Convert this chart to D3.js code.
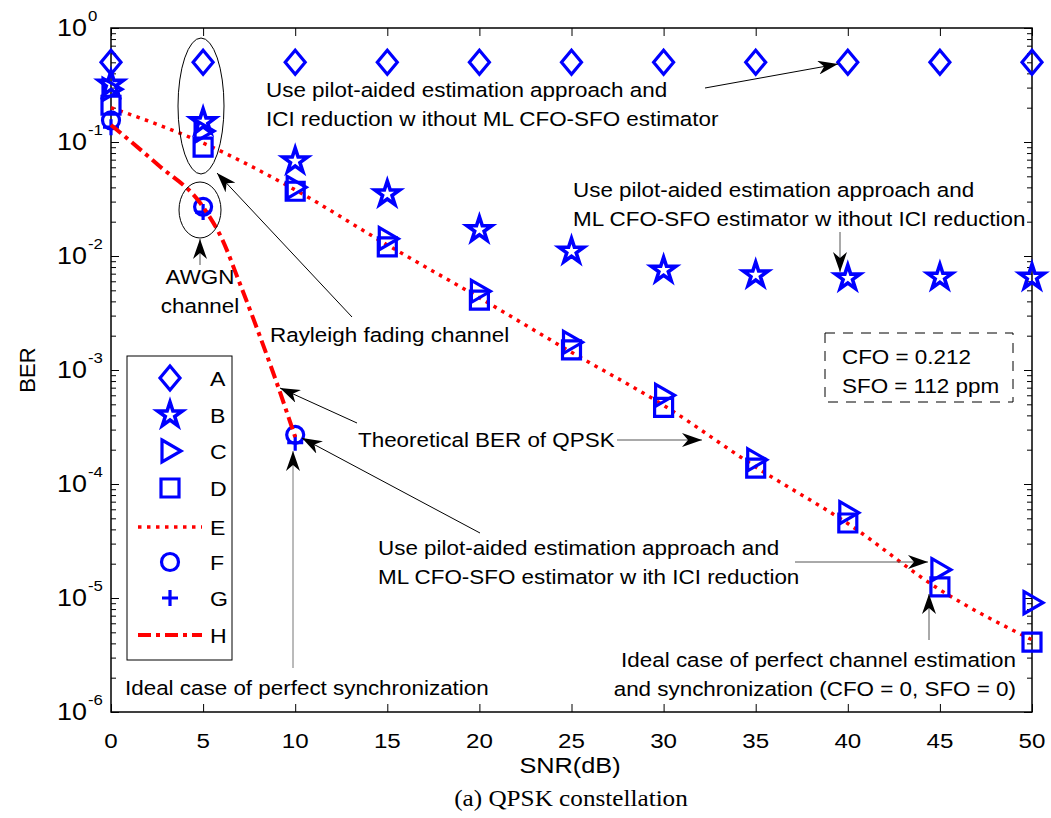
<!DOCTYPE html>
<html lang="en">
<head>
<meta charset="UTF-8">
<title>BER vs SNR - QPSK</title>
<script src="https://d3js.org/d3.v7.min.js"></script>
<style>
    body { margin: 0; background: #fff; }
    svg text { font-family: "Liberation Sans", Arial, sans-serif; fill: #000; }
</style>
</head>
<body>
<div id="chart"></div>
<script>
    // values
    const snr = [0, 5, 10, 15, 20, 25, 30, 35, 40, 45, 50];
    const berA = [0.5, 0.5, 0.5, 0.5, 0.5, 0.5, 0.5, 0.5, 0.5, 0.5, 0.5];
    const berB = [0.32, 0.15, 0.068, 0.035, 0.017, 0.011, 0.0075, 0.0068, 0.0064, 0.0065, 0.0065];
    const berC = [0.29, 0.125, 0.04, 0.0142, 0.0049, 0.00175, 0.0006, 0.000163, 0.000056, 0.0000177, 0.0000091];
    const berD = [0.21, 0.09, 0.037, 0.012, 0.0041, 0.0015, 0.00047, 0.000138, 0.0000455, 0.0000125, 0.0000041];
    const berE = [0.2, 0.098, 0.038, 0.0125, 0.0043, 0.00143, 0.00049, 0.000141, 0.000045, 0.0000118, 0.0000043];
    const snrF = [0, 5, 10];
    const berF = [0.155, 0.027, 0.00027];
    const berG = [0.135, 0.0243, 0.00023];
    const snrH = [0, 2.5, 5, 6, 7, 8, 9, 10];
    const berH = [0.141, 0.064, 0.0269, 0.0144, 0.0057, 0.00215, 0.00077, 0.000258];
    const legendLabels = ["A", "B", "C", "D", "E", "F", "G", "H"];
    const xTicks = [0, 5, 10, 15, 20, 25, 30, 35, 40, 45, 50];
    const yTicks = [0, -1, -2, -3, -4, -5, -6];

    const W = 1051, H = 818;
    const blue = "#0000ff", red = "#ff0000";
    const SX = 1.15; // the reference text is drawn a little wide

    const svg = d3.select("#chart").append("svg")
        .attr("width", W).attr("height", H);

    const x = d3.scaleLinear().domain([0, 50]).range([111, 1032]);
    const y = d3.scaleLog().domain([1e-6, 1]).range([712, 28]);

    // minor ticks for the log axis
    const minor = [];
    for (let e = -6; e < 0; e++) for (let m = 2; m <= 9; m++) minor.push(m * Math.pow(10, e));
    const major = yTicks.map(e => Math.pow(10, e));

    function tickStyle(g) {
        g.select(".domain").remove();
        g.selectAll("line").attr("stroke", "#000").attr("stroke-width", 1);
    }

    svg.append("g").attr("transform", "translate(111,0)")
        .call(d3.axisLeft(y).tickValues(major).tickSize(-8).tickFormat("")).call(tickStyle);
    svg.append("g").attr("transform", "translate(111,0)")
        .call(d3.axisLeft(y).tickValues(minor).tickSize(-5).tickFormat("")).call(tickStyle);
    svg.append("g").attr("transform", "translate(1032,0)")
        .call(d3.axisRight(y).tickValues(major).tickSize(-8).tickFormat("")).call(tickStyle);
    svg.append("g").attr("transform", "translate(1032,0)")
        .call(d3.axisRight(y).tickValues(minor).tickSize(-5).tickFormat("")).call(tickStyle);
    svg.append("g").attr("transform", "translate(0,712)")
        .call(d3.axisBottom(x).tickValues(xTicks).tickSize(-8).tickFormat("")).call(tickStyle);
    svg.append("g").attr("transform", "translate(0,28)")
        .call(d3.axisTop(x).tickValues(xTicks).tickSize(-8).tickFormat("")).call(tickStyle);

    svg.append("rect").attr("x", 111).attr("y", 28).attr("width", 921).attr("height", 684)
        .attr("fill", "none").attr("stroke", "#000").attr("stroke-width", 1.5);

    // tick labels
    svg.append("g").selectAll("text").data(xTicks).enter().append("text")
        .attr("transform", d => `translate(${x(d)},748) scale(1.15,1)`)
        .attr("text-anchor", "middle").attr("font-size", 21)
        .text(d => d);

    svg.append("g").selectAll("text").data(yTicks).enter().append("text")
        .attr("transform", d => `translate(87,${y(Math.pow(10, d)) + 8}) scale(1.12,1)`)
        .attr("text-anchor", "end").attr("font-size", 24).text("10");
    svg.append("g").selectAll("text").data(yTicks).enter().append("text")
        .attr("transform", d => `translate(88,${y(Math.pow(10, d)) - 7}) scale(1.12,1)`)
        .attr("font-size", 15).text(d => d === 0 ? "0" : "-" + (-d));

    svg.append("text").attr("transform", `translate(570,773) scale(1.15,1)`).attr("text-anchor", "middle")
        .attr("font-size", 22).text("SNR(dB)");
    svg.append("text").attr("transform", "translate(35,370) rotate(-90)")
        .attr("text-anchor", "middle").attr("font-size", 22).text("BER");
    svg.append("text").attr("transform", `translate(571,806) scale(1.05,1)`).attr("text-anchor", "middle")
        .attr("font-size", 24).style("font-family", "'Liberation Serif', 'Times New Roman', serif")
        .text("(a) QPSK constellation");

    // marker shapes
    const shapes = {
        A: "M0,-12L10,0L0,12L-10,0Z",
        B: d3.symbol(d3.symbolStar, 190)(),
        C: "M-8,-11L11,0L-8,11Z",
        D: "M-9,-9L9,-9L9,9L-9,9Z",
        F: "M8.5,0A8.5,8.5,0,1,1,-8.5,0A8.5,8.5,0,1,1,8.5,0Z",
        G: "M-8,0L8,0M0,-8L0,8"
    };

    function markers(key, xs, ys) {
        svg.append("g").selectAll("path").data(xs).enter().append("path")
            .attr("transform", (d, i) => `translate(${x(d)},${y(ys[i])})`)
            .attr("d", shapes[key])
            .attr("fill", "none").attr("stroke", blue).attr("stroke-width", key === "B" ? 3.6 : 3.2)
            .attr("stroke-linejoin", "miter");
    }

    const line = d3.line().x(d => x(d[0])).y(d => y(d[1])).curve(d3.curveMonotoneX);

    svg.append("path").datum(snr.map((d, i) => [d, berE[i]]))
        .attr("d", line).attr("fill", "none").attr("stroke", red)
        .attr("stroke-width", 3.5).attr("stroke-dasharray", "3.5,5.5");

    markers("A", snr, berA);
    markers("B", snr, berB);
    markers("C", snr, berC);
    markers("D", snr, berD);
    markers("G", snrF, berG);
    markers("F", snrF, berF);

    svg.append("path").datum(snrH.map((d, i) => [d, berH[i]]))
        .attr("d", line).attr("fill", "none").attr("stroke", red)
        .attr("stroke-width", 4).attr("stroke-dasharray", "13,5,4,5");

    // legend
    const lg = svg.append("g");
    lg.append("rect").attr("x", 127).attr("y", 356).attr("width", 105).attr("height", 304)
        .attr("fill", "#fff").attr("stroke", "#000").attr("stroke-width", 1);
    const legY = [378, 415, 451, 488, 527, 562, 598, 635];
    legendLabels.forEach((k, i) => {
        const cy = legY[i];
        if (k === "E" || k === "H") {
            lg.append("line").attr("x1", 138).attr("x2", 202).attr("y1", cy).attr("y2", cy)
                .attr("stroke", red).attr("stroke-width", k === "E" ? 3.5 : 4)
                .attr("stroke-dasharray", k === "E" ? "3.5,5.5" : "13,5,4,5");
        } else {
            lg.append("path").attr("transform", `translate(170,${cy})`).attr("d", shapes[k])
                .attr("fill", "none").attr("stroke", blue).attr("stroke-width", k === "B" ? 3.6 : 3.2);
        }
        lg.append("text").attr("transform", `translate(210,${cy + 8}) scale(1.1,1)`)
            .attr("font-size", 21).text(k);
    });

    // annotations
    const defs = svg.append("defs");
    defs.append("marker").attr("id", "arr").attr("viewBox", "0 0 20 14")
        .attr("refX", 20).attr("refY", 7).attr("markerWidth", 20).attr("markerHeight", 14)
        .attr("markerUnits", "userSpaceOnUse").attr("orient", "auto")
        .append("path").attr("d", "M0,0L20,7L0,14L6,7Z").attr("fill", "#000");

    function arrow(x1, y1, x2, y2, col) {
        svg.append("line").attr("x1", x1).attr("y1", y1).attr("x2", x2).attr("y2", y2)
            .attr("stroke", col || "#000").attr("stroke-width", 1).attr("marker-end", "url(#arr)");
    }
    function label(tx, ty, lines, anchor) {
        const t = svg.append("text").attr("font-size", 19.5).attr("text-anchor", anchor || "start")
            .attr("transform", `translate(${tx},${ty}) scale(${SX},1)`);
        lines.forEach((s, i) => t.append("tspan").attr("x", 0).attr("y", i * 29.5).text(s));
    }

    svg.append("ellipse").attr("cx", 201).attr("cy", 106).attr("rx", 23).attr("ry", 68)
        .attr("fill", "none").attr("stroke", "#000").attr("stroke-width", 1);
    svg.append("ellipse").attr("cx", 200).attr("cy", 210).attr("rx", 21).attr("ry", 28)
        .attr("fill", "none").attr("stroke", "#000").attr("stroke-width", 1);

    label(266, 97, ["Use pilot-aided estimation approach and", "ICI reduction w ithout ML CFO-SFO estimator"]);
    arrow(705, 88, 838, 64);

    label(573, 197, ["Use pilot-aided estimation approach and", "ML CFO-SFO estimator w ithout ICI reduction"]);
    arrow(840, 232, 840, 272, "#555");

    label(200, 284, ["AWGN", "channel"], "middle");
    arrow(200, 265, 200, 239, "#555");

    label(270, 342, ["Rayleigh fading channel"]);
    arrow(352, 317, 217, 173);

    label(358, 447, ["Theoretical BER of QPSK"]);
    arrow(357, 423, 280, 388);
    arrow(617, 440, 702, 440, "#555");

    label(378, 555, ["Use pilot-aided estimation approach and", "ML CFO-SFO estimator w ith ICI reduction"]);
    arrow(480, 533, 302, 438);
    arrow(795, 562, 928, 562, "#555");

    label(125, 695, ["Ideal case of perfect synchronization"]);
    arrow(293, 668, 293, 451, "#777");

    label(1016, 667, ["Ideal case of perfect channel estimation", "and synchronization (CFO = 0, SFO = 0)"], "end");
    arrow(929, 640, 929, 594, "#555");

    // parameter box
    svg.append("rect").attr("x", 825).attr("y", 333).attr("width", 188).attr("height", 69)
        .attr("fill", "#fff").attr("stroke", "#000").attr("stroke-width", 1)
        .attr("stroke-dasharray", "10,8");
    label(842, 364, ["CFO = 0.212", "SFO = 112 ppm"]);
</script>
</body>
</html>
